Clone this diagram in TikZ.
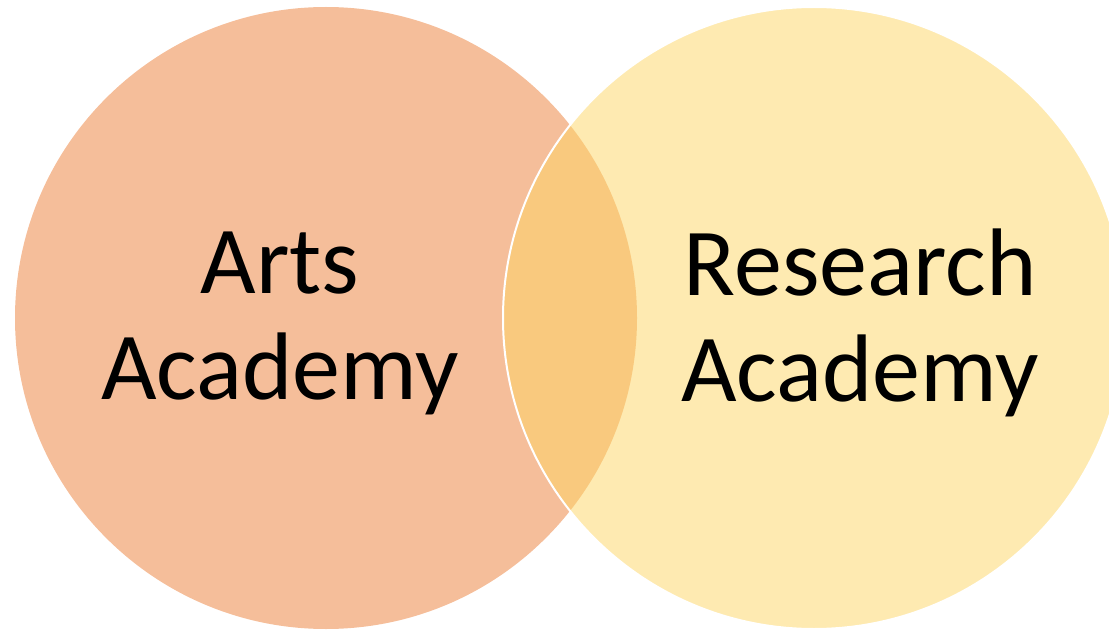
\documentclass[tikz,border=0pt]{standalone}
\usepackage{fontspec}
\setmainfont{Carlito}
\usepackage{tikz}

\definecolor{artspeach}{RGB}{245,190,154}
\definecolor{researchgold}{RGB}{253,213,99}

\begin{document}
\begin{tikzpicture}[x=1pt, y=-1pt]
\useasboundingbox (0,0) rectangle (1109,631);
\fill[artspeach] (326,318) circle (311pt);
\filldraw[fill=researchgold, fill opacity=0.5, draw=white, line width=2pt] (814,318) circle (311pt);
\node[align=center, font=\fontsize{96}{106}\selectfont] (arts) at (280,323) {Arts\\Academy};
\node[align=center, font=\fontsize{96}{106}\selectfont] (research) at (860,323) {Research\\Academy};
\end{tikzpicture}
\end{document}
